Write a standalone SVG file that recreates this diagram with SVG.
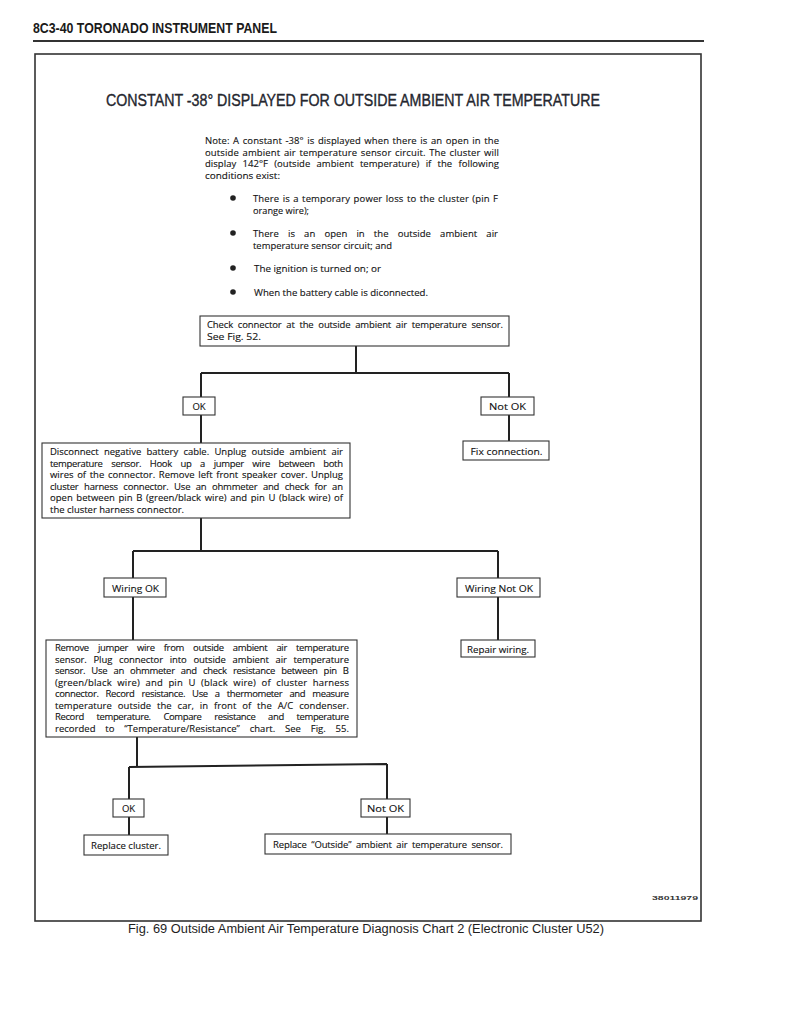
<svg xmlns="http://www.w3.org/2000/svg" width="791" height="1024" viewBox="0 0 791 1024">
<style>
.bg{fill:#ffffff}
.box{fill:#ffffff;stroke:#333;stroke-width:1.1}
.t{font-family:"Open Sans","Liberation Sans",sans-serif;font-size:9.5px;fill:#111;stroke:#111;stroke-width:0.12}
.tm{font-family:"Open Sans","Liberation Sans",sans-serif;font-size:9.5px;fill:#111;stroke:#111;stroke-width:0.12;text-anchor:middle}
.hd{font-family:"Liberation Sans",sans-serif;font-weight:bold;font-size:14px;fill:#1a1a1a}
.ti{font-family:"Liberation Sans",sans-serif;font-size:16px;fill:#24262e;stroke:#24262e;stroke-width:0.35}
.cap{font-family:"Liberation Sans",sans-serif;font-size:12.5px;fill:#1e1e1e}
.con{fill:none;stroke:#222;stroke-width:2}
</style>
<rect class="bg" x="0" y="0" width="791" height="1024"/>
<g id="header">
<text class="hd" x="33" y="33" textLength="244" lengthAdjust="spacingAndGlyphs">8C3-40  TORONADO INSTRUMENT PANEL</text>
<line x1="33" y1="41" x2="704" y2="41" stroke="#333" stroke-width="2"/>
</g>
<g id="frame">
<rect x="35" y="54" width="666" height="867" fill="none" stroke="#333" stroke-width="1.6"/>
</g>
<g id="title">
<text class="ti" x="106" y="106" textLength="494" lengthAdjust="spacingAndGlyphs">CONSTANT -38° DISPLAYED FOR OUTSIDE AMBIENT AIR TEMPERATURE</text>
</g>
<g id="note">
<text class="t" x="205" y="144" word-spacing="1" textLength="294" lengthAdjust="spacing">Note: A constant -38° is displayed when there is an open in the</text>
<text class="t" x="205" y="155.5" word-spacing="1" textLength="294" lengthAdjust="spacing">outside ambient air temperature sensor circuit. The cluster will</text>
<text class="t" x="205" y="167" word-spacing="3.7" textLength="294" lengthAdjust="spacing">display 142°F (outside ambient temperature) if the following</text>
<text class="t" x="205" y="178.5" textLength="75" lengthAdjust="spacingAndGlyphs">conditions exist:</text>
<circle cx="233" cy="198" r="2.8" fill="#222"/>
<text class="t" x="253" y="202" word-spacing="0.8" textLength="245" lengthAdjust="spacing">There is a temporary power loss to the cluster (pin F</text>
<text class="t" x="253" y="213.5" textLength="56" lengthAdjust="spacingAndGlyphs">orange wire);</text>
<circle cx="233" cy="233" r="2.8" fill="#222"/>
<text class="t" x="253" y="237" word-spacing="6.6" textLength="245" lengthAdjust="spacing">There is an open in the outside ambient air</text>
<text class="t" x="253" y="248.5" textLength="139" lengthAdjust="spacingAndGlyphs">temperature sensor circuit; and</text>
<circle cx="233" cy="268" r="2.8" fill="#222"/>
<text class="t" x="254" y="272" textLength="127" lengthAdjust="spacingAndGlyphs">The ignition is turned on; or</text>
<circle cx="233" cy="292" r="2.8" fill="#222"/>
<text class="t" x="254" y="296" textLength="174" lengthAdjust="spacingAndGlyphs">When the battery cable is diconnected.</text>
</g>
<g id="connectors">
<path class="con" d="M356 346V373M201 373H509M201 373V397M509 373V397"/>
<path class="con" d="M201 415V443M509 415V441"/>
<path class="con" d="M201 518V551M133 551H498M133 551V578M498 551V578"/>
<path class="con" d="M133 597V640M498 597V640"/>
<path class="con" d="M137 737V767M129 767L387 764M129 767V799M387 764V799"/>
<path class="con" d="M129 817V835M387 817V834"/>
</g>
<g id="check-connector">
<rect class="box" x="200" y="316" width="309" height="30"/>
<text class="t" x="207" y="328" word-spacing="2.4" textLength="296" lengthAdjust="spacing">Check connector at the outside ambient air temperature sensor.</text>
<text class="t" x="207" y="340" textLength="54" lengthAdjust="spacingAndGlyphs">See Fig. 52.</text>
</g>
<g id="ok1">
<rect class="box" x="183" y="397" width="32" height="18"/>
<text class="tm" x="199" y="410">OK</text>
</g>
<g id="notok1">
<rect class="box" x="481" y="397" width="53" height="18"/>
<text class="tm" x="507.5" y="410" textLength="37" lengthAdjust="spacingAndGlyphs">Not OK</text>
</g>
<g id="fix-connection">
<rect class="box" x="463" y="441" width="86" height="19"/>
<text class="tm" x="506.5" y="454.5" textLength="72" lengthAdjust="spacingAndGlyphs">Fix connection.</text>
</g>
<g id="disconnect-battery">
<rect class="box" x="42" y="443" width="308" height="75"/>
<text class="t" x="50" y="455" word-spacing="2.9" textLength="293" lengthAdjust="spacing">Disconnect negative battery cable. Unplug outside ambient air</text>
<text class="t" x="50" y="466.5" word-spacing="6.5" textLength="293" lengthAdjust="spacing">temperature sensor. Hook up a jumper wire between both</text>
<text class="t" x="50" y="478" word-spacing="1.2" textLength="293" lengthAdjust="spacing">wires of the connector. Remove left front speaker cover. Unplug</text>
<text class="t" x="50" y="489.5" word-spacing="3.2" textLength="293" lengthAdjust="spacing">cluster harness connector. Use an ohmmeter and check for an</text>
<text class="t" x="50" y="501" word-spacing="1.1" textLength="293" lengthAdjust="spacing">open between pin B (green/black wire) and pin U (black wire) of</text>
<text class="t" x="50" y="512.5" textLength="134" lengthAdjust="spacingAndGlyphs">the cluster harness connector.</text>
</g>
<g id="wiring-ok">
<rect class="box" x="104" y="578" width="62" height="19"/>
<text class="tm" x="135.5" y="591.5" textLength="47" lengthAdjust="spacingAndGlyphs">Wiring OK</text>
</g>
<g id="wiring-not-ok">
<rect class="box" x="457" y="578" width="83" height="19"/>
<text class="tm" x="499" y="591.5" textLength="68" lengthAdjust="spacingAndGlyphs">Wiring Not OK</text>
</g>
<g id="repair-wiring">
<rect class="box" x="461" y="640" width="74" height="17"/>
<text class="tm" x="498" y="652.5" textLength="62" lengthAdjust="spacingAndGlyphs">Repair wiring.</text>
</g>
<g id="remove-jumper">
<rect class="box" x="46" y="640" width="311" height="97"/>
<text class="t" x="55" y="651" word-spacing="6.9" textLength="294" lengthAdjust="spacing">Remove jumper wire from outside ambient air temperature</text>
<text class="t" x="55" y="662.5" word-spacing="4.3" textLength="294" lengthAdjust="spacing">sensor. Plug connector into outside ambient air temperature</text>
<text class="t" x="55" y="674" word-spacing="3.9" textLength="294" lengthAdjust="spacing">sensor. Use an ohmmeter and check resistance between pin B</text>
<text class="t" x="55" y="685.5" word-spacing="2.9" textLength="294" lengthAdjust="spacing">(green/black wire) and pin U (black wire) of cluster harness</text>
<text class="t" x="55" y="697" word-spacing="5" textLength="294" lengthAdjust="spacing">connector. Record resistance. Use a thermometer and measure</text>
<text class="t" x="55" y="708.5" word-spacing="3.3" textLength="294" lengthAdjust="spacing">temperature outside the car, in front of the A/C condenser.</text>
<text class="t" x="55" y="720" word-spacing="10.6" textLength="294" lengthAdjust="spacing">Record temperature. Compare resistance and temperature</text>
<text class="t" x="55" y="731.5" word-spacing="7.3" textLength="294" lengthAdjust="spacing">recorded to “Temperature/Resistance” chart. See Fig. 55.</text>
</g>
<g id="ok2">
<rect class="box" x="113" y="799" width="31" height="18"/>
<text class="tm" x="128.5" y="812">OK</text>
</g>
<g id="notok2">
<rect class="box" x="361" y="799" width="49" height="18"/>
<text class="tm" x="385.5" y="812" textLength="37" lengthAdjust="spacingAndGlyphs">Not OK</text>
</g>
<g id="replace-cluster">
<rect class="box" x="84" y="835" width="84" height="20"/>
<text class="tm" x="126" y="849" textLength="70" lengthAdjust="spacingAndGlyphs">Replace cluster.</text>
</g>
<g id="replace-sensor">
<rect class="box" x="265" y="834" width="246" height="20"/>
<text class="t" x="273" y="848" word-spacing="2.2" textLength="230" lengthAdjust="spacing">Replace “Outside” ambient air temperature sensor.</text>
</g>
<g id="code">
<text x="652" y="900" font-family="Liberation Sans, sans-serif" font-weight="bold" font-size="5.5" fill="#333" textLength="46" lengthAdjust="spacingAndGlyphs">38011979</text>
</g>
<g id="caption">
<text class="cap" x="128" y="933" textLength="476" lengthAdjust="spacingAndGlyphs">Fig. 69 Outside Ambient Air Temperature Diagnosis Chart 2 (Electronic Cluster U52)</text>
</g>
</svg>
